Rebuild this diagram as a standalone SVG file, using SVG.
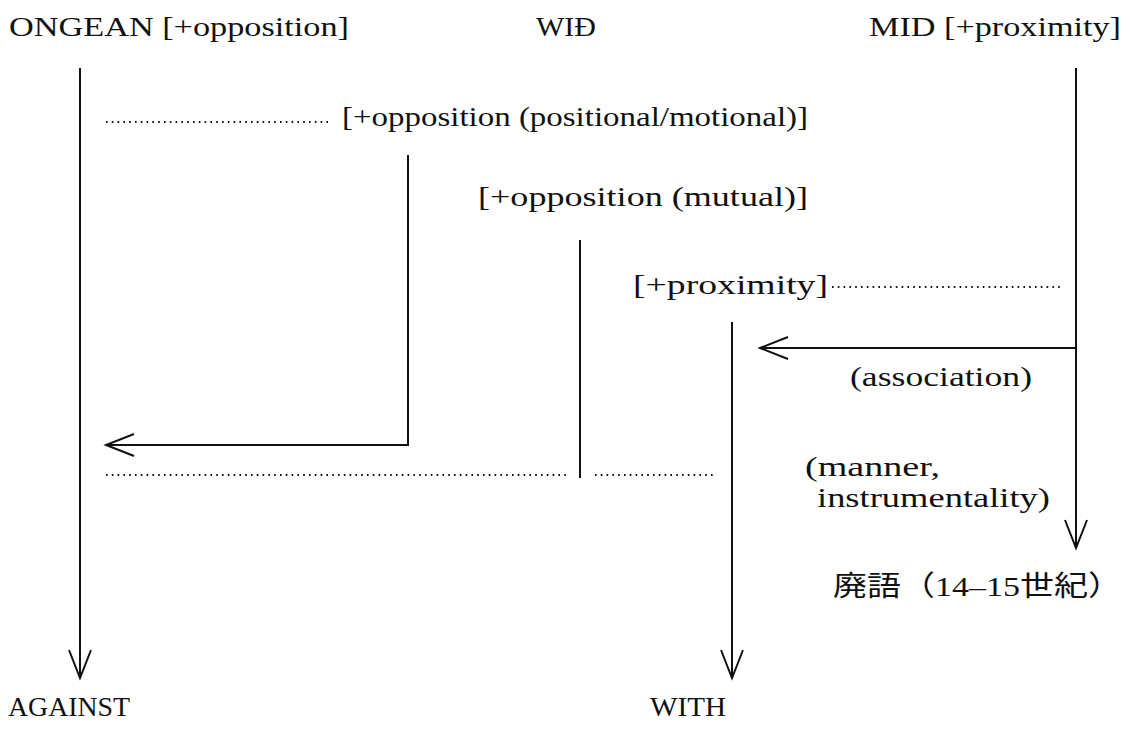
<svg xmlns="http://www.w3.org/2000/svg" width="1130" height="742" viewBox="0 0 1130 742">
<style>
text{font-family:"Liberation Serif","Noto Sans CJK JP",serif;font-size:28px;fill:#111}
.ln{stroke:#111;stroke-width:2;fill:none}
.dot{stroke:#111;stroke-width:2;fill:none;stroke-dasharray:1.6 4.2}
</style>
<defs>
<marker id="ah" markerWidth="32" markerHeight="26" refX="29" refY="13" orient="auto" markerUnits="userSpaceOnUse">
<path d="M1,2 L29,13 L1,24" fill="none" stroke="#111" stroke-width="2"/>
</marker>
</defs>
<rect width="1130" height="742" fill="#fff"/>
<g id="node-ongean"><text x="9" y="36" textLength="340" lengthAdjust="spacingAndGlyphs">ONGEAN [+opposition]</text></g>
<g id="node-wid"><text x="536" y="36" textLength="60" lengthAdjust="spacingAndGlyphs">WIÐ</text></g>
<g id="node-mid"><text x="869" y="36" textLength="252" lengthAdjust="spacingAndGlyphs">MID [+proximity]</text></g>
<g id="node-pos"><text x="342" y="126" textLength="466" lengthAdjust="spacingAndGlyphs">[+opposition (positional/motional)]</text></g>
<g id="node-mutual"><text x="478" y="206" textLength="330" lengthAdjust="spacingAndGlyphs">[+opposition (mutual)]</text></g>
<g id="node-prox"><text x="633" y="294" textLength="195" lengthAdjust="spacingAndGlyphs">[+proximity]</text></g>
<g id="node-assoc"><text x="850" y="386" textLength="182" lengthAdjust="spacingAndGlyphs">(association)</text></g>
<g id="node-manner"><text x="805" y="476" textLength="135" lengthAdjust="spacingAndGlyphs">(manner,</text><text x="817" y="507" textLength="233" lengthAdjust="spacingAndGlyphs">instrumentality)</text></g>
<g id="node-obs"><text x="833" y="596" textLength="289" lengthAdjust="spacingAndGlyphs">廃語（14–15世紀）</text></g>
<g id="node-against"><text x="8" y="716" textLength="122" lengthAdjust="spacingAndGlyphs">AGAINST</text></g>
<g id="node-with"><text x="650" y="716" textLength="76" lengthAdjust="spacingAndGlyphs">WITH</text></g>
<g id="connectors">
<line class="ln" x1="80" y1="68" x2="80" y2="678" marker-end="url(#ah)"/>
<line class="ln" x1="1076" y1="68" x2="1076" y2="548" marker-end="url(#ah)"/>
<line class="ln" x1="1076" y1="348" x2="760" y2="348" marker-end="url(#ah)"/>
<polyline class="ln" points="408,155 408,445 106,445" marker-end="url(#ah)"/>
<line class="ln" x1="580" y1="240" x2="580" y2="478"/>
<line class="ln" x1="732" y1="322" x2="732" y2="678" marker-end="url(#ah)"/>
<line class="dot" x1="106" y1="122" x2="332" y2="122"/>
<line class="dot" x1="832" y1="287" x2="1060" y2="287"/>
<line class="dot" x1="106" y1="475" x2="568" y2="475"/>
<line class="dot" x1="595" y1="475" x2="714" y2="475"/>
</g>
</svg>
